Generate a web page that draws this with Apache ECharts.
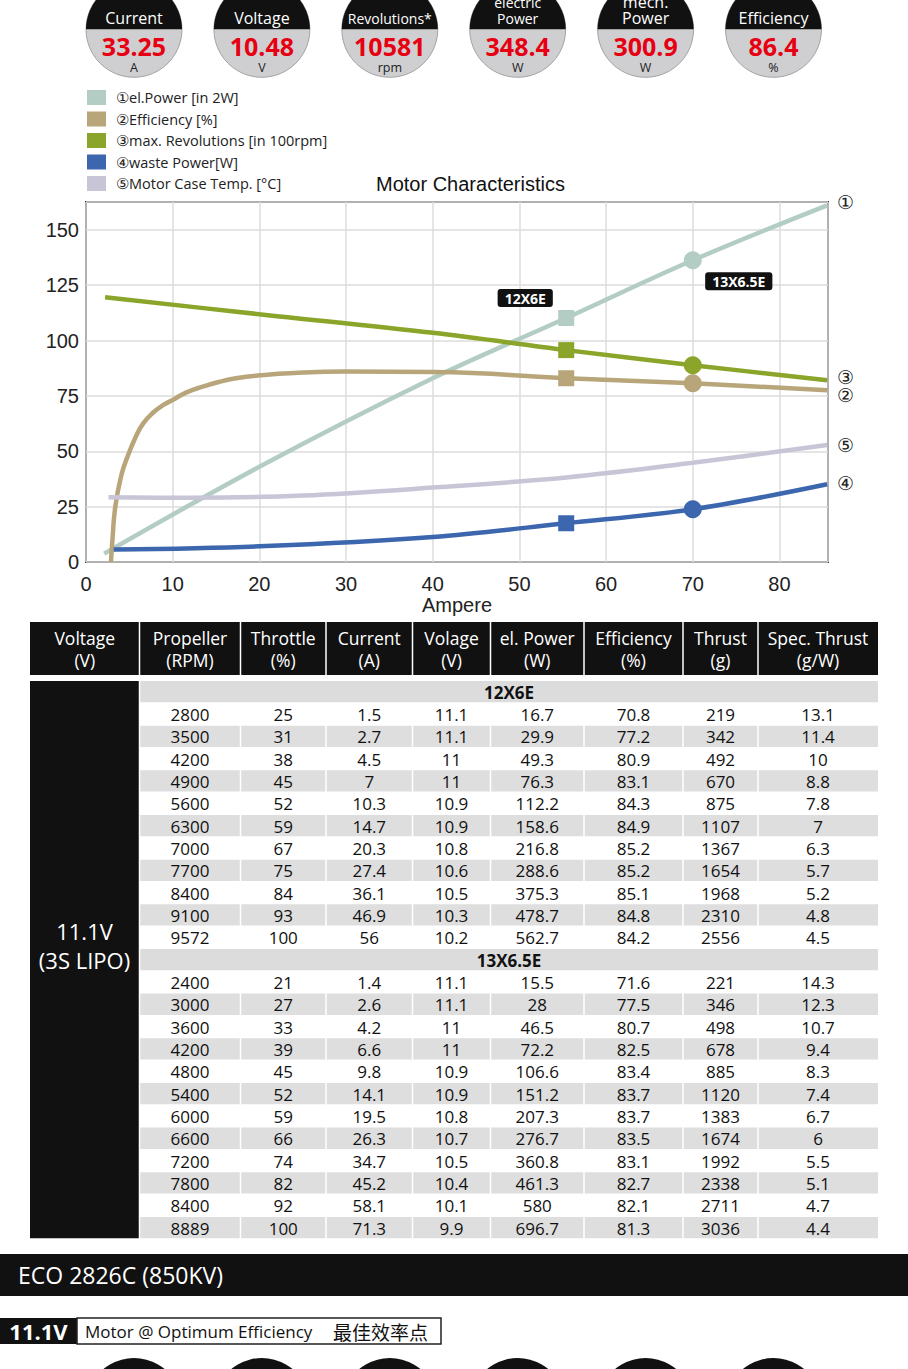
<!DOCTYPE html>
<html><head><meta charset="utf-8">
<script src="https://cdn.jsdelivr.net/npm/echarts@6/dist/echarts.min.js"></script>
<style>html,body{margin:0;padding:0;background:#fff;}#c{width:908px;height:1369px;}</style>
</head><body><div id="c"></div>
<script>
// ---- gauges ----
const gaugeLabels = ['Current','Voltage','Revolutions*','electric\nPower','mech.\nPower','Efficiency'];
const gaugeValues = ['33.25','10.48','10581','348.4','300.9','86.4'];
const gaugeUnits = ['A','V','rpm','W','W','%'];

// ---- chart ----
const chartTitle = 'Motor Characteristics';
const seriesNames = ['①el.Power [in 2W]','②Efficiency [%]','③max. Revolutions [in 100rpm]','④waste Power[W]','⑤Motor Case Temp. [°C]'];
const endMarks = ['①','②','③','④','⑤'];
const lineColors = ['#b3cdc5','#b8a67a','#8aa52a','#3c66ad','#c8c5d7'];
const elPowerAmps = [2.1,20,40,55.4,70,85.5];
const elPowerValues = [3.8,43,83,110.2,136.3,161.1];
const efficiencyAmps = [2.88,3.05,3.38,4.04,4.8,5.77,6.6,7.69,8.8,10,11.6,13.46,15.3,17.3,20,24,30,40,55.4,70,85.5];
const efficiencyValues = [0,10,25,38.6,47.7,56.8,62.6,67.3,70.6,73.2,76.6,79.2,81.3,83,84.3,85.4,86,85.8,83,80.7,77.6];
const revolutionAmps = [2.2,20,40,55.4,70,85.5];
const revolutionValues = [119.6,111.9,103.5,95.7,88.9,82.1];
const wastePowerAmps = [3.2,20,40,55.4,70,85.5];
const wastePowerValues = [5.6,7.1,11.3,17.5,23.8,35.1];
const caseTempAmps = [2.6,12,25,40,55.4,70,85.5];
const caseTempValues = [29.2,29,30,33.6,38.2,44.8,52.8];
const markerProps = ['12X6E','13X6.5E'];
const markerAmps = [55.4, 70];

// ---- table ----
const tableHeaders = [['Voltage','(V)'],['Propeller','(RPM)'],['Throttle','(%)'],['Current','(A)'],['Volage','(V)'],['el. Power','(W)'],['Efficiency','(%)'],['Thrust','(g)'],['Spec. Thrust','(g/W)']];
const batteryLabel = '11.1V\n(3S LIPO)';
const prop12Name = '12X6E';
const prop12Rows = [
 [2800,25,1.5,11.1,16.7,70.8,219,13.1],
 [3500,31,2.7,11.1,29.9,77.2,342,11.4],
 [4200,38,4.5,11,49.3,80.9,492,10],
 [4900,45,7,11,76.3,83.1,670,8.8],
 [5600,52,10.3,10.9,112.2,84.3,875,7.8],
 [6300,59,14.7,10.9,158.6,84.9,1107,7],
 [7000,67,20.3,10.8,216.8,85.2,1367,6.3],
 [7700,75,27.4,10.6,288.6,85.2,1654,5.7],
 [8400,84,36.1,10.5,375.3,85.1,1968,5.2],
 [9100,93,46.9,10.3,478.7,84.8,2310,4.8],
 [9572,100,56,10.2,562.7,84.2,2556,4.5]];
const prop13Name = '13X6.5E';
const prop13Rows = [
 [2400,21,1.4,11.1,15.5,71.6,221,14.3],
 [3000,27,2.6,11.1,28,77.5,346,12.3],
 [3600,33,4.2,11,46.5,80.7,498,10.7],
 [4200,39,6.6,11,72.2,82.5,678,9.4],
 [4800,45,9.8,10.9,106.6,83.4,885,8.3],
 [5400,52,14.1,10.9,151.2,83.7,1120,7.4],
 [6000,59,19.5,10.8,207.3,83.7,1383,6.7],
 [6600,66,26.3,10.7,276.7,83.5,1674,6],
 [7200,74,34.7,10.5,360.8,83.1,1992,5.5],
 [7800,82,45.2,10.4,461.3,82.7,2338,5.1],
 [8400,92,58.1,10.1,580,82.1,2711,4.7],
 [8889,100,71.3,9.9,696.7,81.3,3036,4.4]];

// ---- footer ----
const modelTitle = 'ECO 2826C (850KV)';
const voltageTag = '11.1V';
const optimumText = 'Motor @ Optimum Efficiency';
const optimumTextCN = '最佳效率点';

// ================= build =================
const FONT = 'Open Sans';
const g = [];
function txt(x, y, text, st) {
  g.push({type:'text', x:x, y:y, silent:true, z:10,
    style:Object.assign({text:text, align:'center', verticalAlign:'middle', fill:'#111', fontFamily:FONT, fontSize:17}, st||{})});
}
function rect(x, y, w, h, fill, st) {
  g.push({type:'rect', silent:true, z:5, shape:{x:x, y:y, width:w, height:h}, style:Object.assign({fill:fill}, st||{})});
}

// gauges
const gR = 48, gCy = 29.3;
gaugeLabels.forEach((lab, i) => {
  const cx = 134 + i * 127.9;
  g.push({type:'circle', silent:true, z:4, shape:{cx:cx, cy:gCy, r:gR}, style:{fill:'#cfcfd1', stroke:'#a3a3a3', lineWidth:1}});
  g.push({type:'sector', silent:true, z:5, shape:{cx:cx, cy:gCy, r:gR, r0:0, startAngle:Math.PI, endAngle:Math.PI*2, clockwise:true}, style:{fill:'#111'}});
  txt(cx, 26, lab, {fill:'#fff', fontSize: lab.length > 11 ? 14 : 16, verticalAlign:'bottom', lineHeight:16});
  txt(cx, 46, gaugeValues[i], {fill:'#e60012', fontSize:25, fontWeight:'bold', lineHeight:24});
  txt(cx, 67.5, gaugeUnits[i], {fill:'#222', fontSize:12.5, lineHeight:12});
});

// table
const colB = [30, 139.5, 240.5, 326, 412.5, 490.5, 584, 683, 758, 878];
const gap = 0.75;
tableHeaders.forEach((h, c) => {
  const x0 = colB[c] + (c ? gap : 0), x1 = colB[c+1] - (c < 8 ? gap : 0);
  rect(x0, 622, x1 - x0, 53, '#111');
  txt((colB[c] + colB[c+1]) / 2, 638, h[0], {fill:'#fff', fontSize:17.5});
  txt((colB[c] + colB[c+1]) / 2, 660, h[1], {fill:'#fff', fontSize:17.5});
});
const bodyTop = 681, pitch = 22.33, rowH = 21.3;
rect(30, bodyTop, 139.5 - gap - 30, 25 * pitch - 1, '#111');
txt(84.5, 945, batteryLabel, {fill:'#fff', fontSize:22, lineHeight:29});
let r = 0;
[[prop12Name, prop12Rows], [prop13Name, prop13Rows]].forEach(([name, rows]) => {
  const y0 = bodyTop + r * pitch;
  rect(colB[1] + gap, y0, colB[9] - colB[1] - gap, rowH, '#dcdcdc');
  txt(509, y0 + rowH / 2 + 0.5, name, {fontWeight:'bold', fontSize:17});
  r++;
  rows.forEach((row, j) => {
    const y = bodyTop + r * pitch;
    row.forEach((v, k) => {
      const c = k + 1;
      const x0 = colB[c] + gap, x1 = colB[c+1] - (c < 8 ? gap : 0);
      if (j % 2 === 1) rect(x0, y, x1 - x0, rowH, '#dedede');
      txt((colB[c] + colB[c+1]) / 2, y + rowH / 2 + 0.5, String(v), {fontSize:17});
    });
    r++;
  });
});

// footer
rect(0, 1254, 908, 42, '#111');
txt(18, 1275, modelTitle, {fill:'#fff', fontSize:23, align:'left'});
rect(0, 1318, 77, 26, '#111');
txt(38.5, 1331, voltageTag, {fill:'#fff', fontSize:22, fontWeight:'bold'});
rect(77, 1318, 364, 26, '#fff', {stroke:'#222', lineWidth:1.5});
txt(85, 1331, optimumText, {fontSize:17, align:'left'});
txt(333, 1331, optimumTextCN, {fontSize:19, align:'left', fontFamily:'Noto Sans CJK SC'});
gaugeLabels.forEach((lab, i) => {
  const cx = 134 + i * 127.9;
  g.push({type:'circle', silent:true, z:5, shape:{cx:cx, cy:1406, r:gR}, style:{fill:'#111'}});
});

// series
const seriesX = [elPowerAmps, efficiencyAmps, revolutionAmps, wastePowerAmps, caseTempAmps];
const seriesY = [elPowerValues, efficiencyValues, revolutionValues, wastePowerValues, caseTempValues];
const endOffsets = [[0,-3],[0,5],[0,-3],[0,-1],[0,0]];
const series = seriesNames.map((name, s) => {
  const data = seriesX[s].map((x, k) => {
    const item = {value:[x, seriesY[s][k]]};
    const m = markerAmps.indexOf(x);
    if (m >= 0 && s < 4) {
      item.symbol = m === 0 ? 'rect' : 'circle';
      item.symbolSize = m === 0 ? 16 : 18;
      if (s === 0) {
        item.label = {show:true, position:'inside', formatter:markerProps[m],
          offset: m === 0 ? [-41,-20] : [46,21],
          backgroundColor:'#111', color:'#fff', fontWeight:'bold', fontSize:14, fontFamily:FONT,
          padding:[2,7,2,7], borderRadius:3};
      }
    }
    return item;
  });
  return {
    name:name, type:'line', data:data, color:lineColors[s],
    smooth: s === 1 ? 0.5 : 0.35, symbol:'none', showSymbol:true,
    lineStyle:{width:4.5, color:lineColors[s]}, itemStyle:{color:lineColors[s]},
    z: 3 + (s === 0 ? 0 : 1),
    endLabel:{show:true, formatter:endMarks[s], color:'#222', fontSize:19, distance:10, offset:endOffsets[s]},
    emphasis:{disabled:true}
  };
});

const chart = echarts.init(document.getElementById('c'), null, {renderer:'svg'});
chart.setOption({
  animation:false,
  backgroundColor:'#fff',
  title:{text:chartTitle, left:376, top:174, padding:0, textStyle:{fontSize:20, fontWeight:'normal', color:'#111', fontFamily:'Liberation Sans'}},
  legend:{orient:'vertical', left:87, top:90, padding:0, itemWidth:19, itemHeight:15, itemGap:6.5, icon:'rect', selectedMode:false,
    data:seriesNames, textStyle:{fontSize:14.5, color:'#222', fontFamily:FONT, padding:[0,0,0,5]}},
  grid:{left:86, top:202, width:742, height:360, show:true, borderColor:'#333', borderWidth:2, containLabel:false},
  xAxis:{type:'value', min:0, max:85.6, interval:10,
    axisLine:{show:false}, axisTick:{show:false},
    splitLine:{lineStyle:{color:'#dcdcdc', width:1.5}},
    axisLabel:{fontSize:20, color:'#222', margin:12, fontFamily:'Liberation Sans', showMaxLabel:false},
    name:'Ampere', nameLocation:'middle', nameGap:32, nameTextStyle:{fontSize:20, color:'#222', fontFamily:'Liberation Sans'}},
  yAxis:{type:'value', min:0, max:162.6, interval:25,
    axisLine:{show:false}, axisTick:{show:false},
    splitLine:{lineStyle:{color:'#dcdcdc', width:1.5}},
    axisLabel:{fontSize:20, color:'#222', margin:7, fontFamily:'Liberation Sans', showMaxLabel:false}},
  series:series,
  graphic:{elements:g}
});
</script></body></html>
